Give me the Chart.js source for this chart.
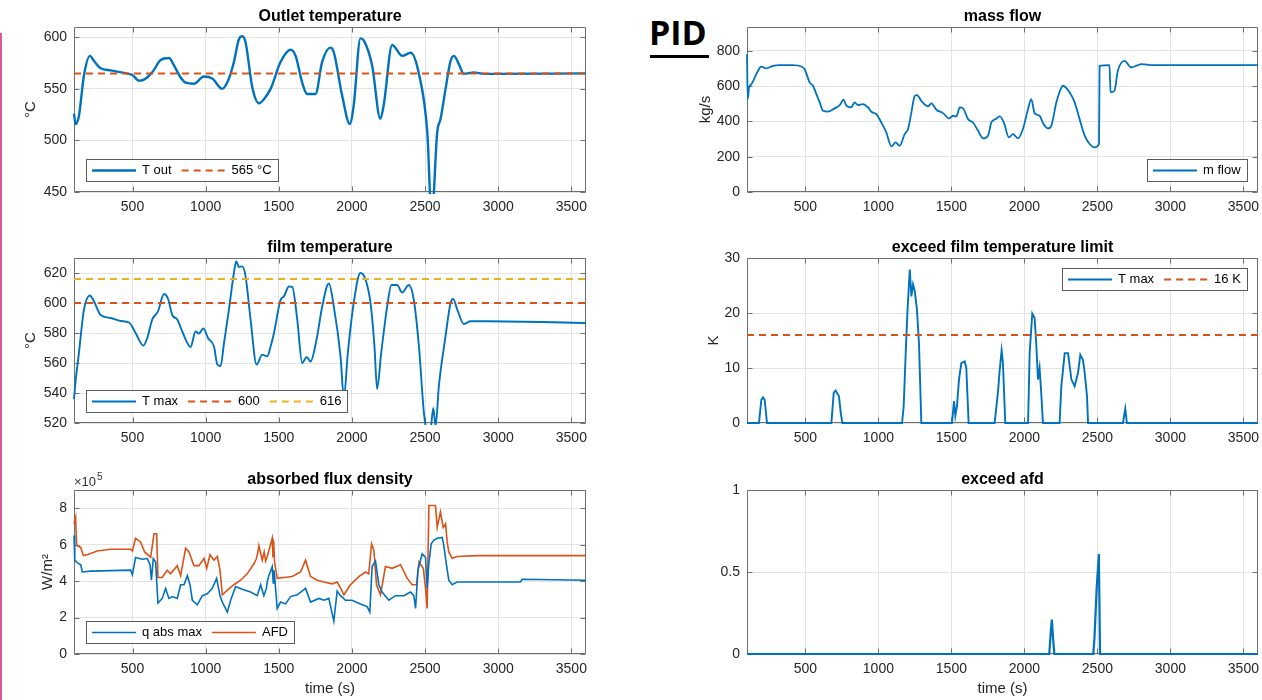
<!DOCTYPE html>
<html>
<head>
<meta charset="utf-8">
<script src="https://cdn.jsdelivr.net/npm/chart.js@4.4.1/dist/chart.umd.min.js"></script>
<style>
  html, body { margin: 0; padding: 0; background: #fff; width: 1262px; height: 700px; overflow: hidden; }
  canvas { position: absolute; }
  #bar { position: absolute; left: 0; top: 33px; width: 2px; height: 667px; background: #dc5a9c; }
  #pid { position: absolute; left: 649px; top: 12px; font: bold 34px 'Open Sans', sans-serif; color: #000; line-height: 40px; }
  #pidLine { position: absolute; left: 650px; top: 55px; width: 59px; height: 3px; background: #000; }
</style>
</head>
<body>
<div id="bar"></div>
<div id="pid">PID</div>
<div id="pidLine"></div>
<canvas id="tl"></canvas>
<canvas id="ml"></canvas>
<canvas id="bl"></canvas>
<canvas id="tr"></canvas>
<canvas id="mr"></canvas>
<canvas id="br"></canvas>
<script>
// ---- data ----
const xTicks = [500, 1000, 1500, 2000, 2500, 3000, 3500];

// outlet temperature, °C
const tOutTime = [100, 111, 134, 168, 209, 237, 282, 351, 442, 499,
  544, 578, 635, 692, 749, 784, 829, 863, 920, 988,
  1045, 1114, 1159, 1193, 1227, 1250, 1273, 1318, 1364, 1398,
  1444, 1512, 1580, 1615, 1660, 1694, 1751, 1796, 1853, 1876,
  1933, 1985, 2012, 2058, 2081, 2138, 2194, 2217, 2275, 2344,
  2401, 2458, 2515, 2545, 2583, 2606, 2640, 2674, 2697, 2731,
  2765, 2833, 2902, 3600];
const tOutVal = [526, 516, 524, 563, 582, 577, 570, 568, 565.5, 563.5,
  558, 559, 566, 578, 580, 572.6, 561, 556, 555, 562,
  560, 550, 560, 576, 598, 601, 595, 552, 536, 540,
  550, 576, 588, 582, 556, 545, 545, 576, 590, 585.5,
  543.5, 516, 534, 599, 597, 572.6, 521, 534, 592.6, 582,
  585, 564.5, 508, 425, 508, 521, 550, 577, 582, 574,
  564.5, 566, 564.5, 565];
const tOutSet = 565;

// film temperature, °C
const filmTime = [100, 111, 134, 168, 209, 237, 282, 351, 419, 476,
  521, 574, 601, 635, 674, 715, 742, 772, 806, 840,
  897, 931, 954, 984, 1016, 1057, 1080, 1102, 1125, 1159,
  1193, 1209, 1227, 1250, 1273, 1307, 1348, 1387, 1421, 1444,
  1467, 1512, 1535, 1569, 1592, 1626, 1660, 1690, 1717, 1758,
  1797, 1842, 1876, 1922, 1945, 1972, 2012, 2058, 2093, 2127,
  2154, 2172, 2200, 2241, 2270, 2309, 2343, 2389, 2423, 2458,
  2492, 2510, 2533, 2556, 2572, 2594, 2640, 2674, 2692, 2720,
  2765, 2811, 2925, 3600];
const filmVal = [536, 548, 567, 595.6, 605, 601, 592, 590, 588, 587,
  580, 571.6, 576.7, 589, 594.4, 606, 603, 592, 589, 581,
  570.7, 581, 579.6, 583, 576.7, 571, 559, 558, 573, 595.6,
  620, 627.8, 624, 624.4, 617.8, 589, 559, 565.6, 564.4, 571,
  580, 602, 604.4, 611, 610.7, 589, 560, 564, 561, 575.6,
  597.8, 613, 597.8, 564.4, 536.7, 566.7, 600, 620, 615.6, 600,
  571, 542.7, 566.7, 597.8, 612, 612, 607, 612, 602, 571,
  526.7, 515, 512, 530, 518, 544.4, 578, 600, 602.7, 595.6,
  586, 587.8, 587.8, 586.7];
const filmLimits = [600, 616];

// absorbed flux density, x1e5 W/m2
const qAbsTime = [100, 105, 123, 146, 157, 214, 487, 499, 521, 567,
  601, 620, 629, 642, 658, 674, 703, 726, 749, 772,
  806, 829, 852, 875, 893, 909, 943, 977, 1011, 1045,
  1075, 1098, 1114, 1148, 1171, 1205, 1250, 1307, 1353, 1376,
  1398, 1415, 1422, 1432, 1455, 1462, 1466, 1471, 1489, 1512, 1546, 1580, 1626, 1683,
  1717, 1774, 1808, 1842, 1876, 1899, 1922, 1956, 2001, 2058,
  2104, 2122, 2138, 2161, 2184, 2206, 2252, 2297, 2355, 2400,
  2423, 2435, 2451, 2480, 2503, 2514, 2526, 2542, 2560, 2583,
  2617, 2628, 2646, 2662, 2685, 2719, 3152, 3163, 3600];
const qAbsVal = [6.5, 5.15, 5.0, 4.9, 4.5, 4.55, 4.6, 4.35, 5.3, 5.2,
  5.24, 4.9, 4.05, 5.24, 5.05, 2.8, 3.05, 3.6, 3.05, 3.15,
  3.05, 3.8, 3.8, 4.3, 3.8, 2.95, 2.7, 3.2, 3.3, 3.6,
  4.15, 3.2, 2.85, 2.3, 2.95, 3.7, 3.55, 3.4, 3.2, 3.8,
  3.2, 3.6, 4.0, 4.3, 4.8, 3.9, 4.6, 4.3, 2.5, 2.85, 2.75, 3.15, 3.25, 3.6,
  2.85, 3.05, 2.95, 3.05, 1.8, 3.45, 3.2, 2.95, 2.95, 2.75,
  2.6, 2.3, 4.8, 5.1, 3.8, 3.4, 2.95, 3.2, 3.2, 3.4,
  3.2, 2.5, 4.6, 5.5, 5.3, 3.6, 5.0, 6.05, 6.25, 6.35,
  6.4, 5.95, 4.9, 4.05, 3.8, 3.95, 3.95, 4.1, 4.05];
const afdTime = [100, 111, 118, 146, 164, 191, 259, 351, 487, 499,
  521, 555, 583, 624, 647, 665, 674, 703, 737, 760,
  806, 829, 863, 886, 920, 954, 989, 1007, 1030, 1057,
  1080, 1098, 1114, 1148, 1193, 1239, 1284, 1330, 1345, 1355, 1364, 1387, 1400, 1410,
  1421, 1455, 1460, 1465, 1471, 1489, 1535, 1592, 1649, 1683, 1717, 1763,
  1808, 1865, 1899, 1917, 1945, 1990, 2047, 2093, 2115, 2134,
  2150, 2168, 2195, 2229, 2275, 2332, 2378, 2412, 2442, 2458,
  2488, 2503, 2514, 2526, 2571, 2583, 2605, 2624, 2640, 2651,
  2662, 2685, 2719, 2856, 3600];
const afdVal = [7.15, 7.5, 5.95, 5.85, 5.4, 5.45, 5.65, 5.75, 5.75, 5.65,
  6.35, 6.15, 5.6, 5.3, 6.6, 6.6, 4.2, 4.2, 4.6, 4.4,
  4.85, 4.3, 5.8, 5.6, 4.85, 4.85, 5.25, 4.7, 5.45, 5.15,
  5.35, 4.6, 3.25, 3.5, 3.8, 4.05, 4.4, 4.95, 5.2, 5.5, 5.95, 5.15, 5.6, 5.1,
  5.35, 6.35, 5.3, 6.2, 5.05, 4.15, 4.2, 4.25, 4.5, 5.15, 4.25, 4.05,
  3.95, 3.85, 3.95, 3.7, 3.25, 3.8, 4.25, 4.5, 4.4, 6.05,
  5.7, 3.8, 3.25, 4.8, 4.7, 4.9, 4.15, 3.8, 3.8, 5.05,
  4.7, 3.6, 2.5, 8.15, 8.15, 6.95, 7.8, 6.95, 7.15, 6.15,
  5.6, 5.25, 5.35, 5.4, 5.4];

// mass flow, kg/s
const flowTime = [100, 105, 114, 130, 164, 198, 232, 278, 324, 415,
  472, 495, 529, 552, 575, 598, 621, 655, 700, 735,
  762, 780, 814, 837, 860, 894, 929, 952, 986, 1020,
  1054, 1089, 1118, 1146, 1180, 1203, 1226, 1249, 1264, 1294,
  1340, 1363, 1397, 1443, 1483, 1511, 1534, 1557, 1580, 1614,
  1648, 1683, 1717, 1751, 1774, 1804, 1831, 1859, 1894, 1922,
  1956, 1990, 2025, 2047, 2070, 2104, 2131, 2161, 2184, 2219,
  2253, 2264, 2310, 2344, 2378, 2413, 2447, 2481, 2511, 2515,
  2583, 2590, 2617, 2640, 2686, 2732, 2801, 2881, 3600];
const flowVal = [781, 526, 592, 611, 668, 711, 700, 715, 719, 719,
  711, 696, 621, 602, 555, 508, 460, 455, 474, 492,
  523, 489, 479, 508, 492, 498, 479, 455, 441, 394,
  338, 258, 281, 262, 328, 357, 451, 545, 549, 517,
  485, 502, 466, 447, 417, 432, 428, 479, 474, 413,
  394, 347, 304, 319, 394, 413, 428, 394, 309, 328,
  304, 357, 470, 526, 447, 432, 385, 360, 375, 508,
  592, 602, 564, 508, 413, 319, 272, 253, 272, 715,
  719, 564, 574, 687, 743, 706, 725, 719, 719];

// exceed film temperature limit, K
const exFilmTime = [100, 182, 198, 210, 221, 237, 678, 694, 707, 730,
  742, 753, 1162, 1173, 1187, 1199, 1215, 1226, 1237, 1249,
  1264, 1278, 1294, 1504, 1518, 1527, 1538, 1552, 1568, 1591,
  1602, 1618, 1796, 1819, 1830, 1844, 1853, 1869, 2025, 2036,
  2054, 2070, 2081, 2093, 2104, 2115, 2127, 2241, 2253, 2276,
  2299, 2322, 2344, 2367, 2383, 2401, 2413, 2429, 2436, 2675,
  2691, 2702, 3600];
const exFilmVal = [0, 0, 4.2, 4.65, 4.2, 0, 0, 5.5, 5.9, 4.85,
  1.9, 0, 0, 3.0, 12.7, 20.3, 27.9, 23, 25.2, 24,
  20.6, 14.5, 0, 0, 4.0, 1.3, 3.0, 7.9, 10.9, 11.2,
  10, 0, 0, 5.6, 9.4, 13.2, 10.9, 0, 0, 12.7,
  19.9, 19.1, 14.5, 7.9, 10, 5.6, 0, 0, 6.7, 12.7,
  12.7, 7.9, 6.7, 9.1, 12.4, 11.5, 9.1, 4.85, 0, 0,
  2.6, 0, 0];
const exFilmLimit = 16;

// exceed afd
const exAfdTime = [100, 2170, 2182, 2188, 2196, 2205, 2472, 2480, 2495, 2510, 2518, 3600];
const exAfdVal = [0, 0, 0.15, 0.21, 0.1, 0, 0, 0.1, 0.4, 0.61, 0, 0];

// ---- style ----
const BLUE = '#0072BD', ORANGE = '#D95319', YELLOW = '#EDB120';
const GRID = '#e3e3e3', BOX = '#6e6e6e', TICK = '#262626';
const FONT = "'Liberation Sans', Arial, sans-serif";
Chart.defaults.font.family = FONT;
Chart.defaults.color = TICK;

const pts = (ts, vs) => ts.map((t, i) => ({ x: t, y: vs[i] }));
const hline = v => [{ x: 100, y: v }, { x: 3600, y: v }];

// MATLAB-like box, inward ticks, title, legend
const frame = {
  id: 'frame',
  beforeDatasetsDraw(chart) {
    const { ctx, chartArea: a, scales: { x, y } } = chart;
    const L = Math.round(a.left) + 0.5, R = Math.round(a.right) - 0.5;
    const T = Math.round(a.top) + 0.5, B = Math.round(a.bottom) - 0.5;
    ctx.save();
    ctx.strokeStyle = BOX;
    ctx.lineWidth = 1;
    ctx.beginPath();
    ctx.rect(L, T, R - L, B - T);
    x.ticks.forEach(t => {
      const px = Math.round(x.getPixelForValue(t.value)) + 0.5;
      ctx.moveTo(px, B); ctx.lineTo(px, B - 5);
      ctx.moveTo(px, T); ctx.lineTo(px, T + 5);
    });
    y.ticks.forEach(t => {
      const py = Math.round(y.getPixelForValue(t.value)) + 0.5;
      ctx.moveTo(L, py); ctx.lineTo(L + 5, py);
      ctx.moveTo(R, py); ctx.lineTo(R - 5, py);
    });
    ctx.stroke();
    ctx.restore();
  },
  afterDraw(chart, args, opts) {
    const { ctx, chartArea: a } = chart;
    ctx.save();
    ctx.fillStyle = '#000';
    ctx.font = 'bold 16px ' + FONT;
    ctx.textAlign = 'center';
    ctx.textBaseline = 'alphabetic';
    ctx.fillText(opts.title, (a.left + a.right) / 2, a.top - 6);
    if (opts.exponent) {
      ctx.fillStyle = '#333';
      ctx.textAlign = 'left';
      ctx.font = '13px ' + FONT;
      ctx.fillText('\u00d710', a.left, a.top - 4);
      const w = ctx.measureText('\u00d710').width;
      ctx.font = '10px ' + FONT;
      ctx.fillText(opts.exponent, a.left + w + 1, a.top - 10);
    }
    if (opts.legend) drawLegend(chart, opts.legend);
    ctx.restore();
  }
};

function drawLegend(chart, corner) {
  const { ctx, chartArea: a } = chart;
  const items = chart.data.datasets;
  ctx.font = '13px ' + FONT;
  const pad = 6, sample = 44, gap = 6, itemGap = 10, h = 22;
  const widths = items.map(d => sample + gap + ctx.measureText(d.label).width);
  const w = Math.round(pad * 2 + widths.reduce((s, v) => s + v, 0) + itemGap * (items.length - 1));
  let x0, y0;
  if (corner === 'sw') { x0 = a.left + 12; y0 = a.bottom - 11 - h; }
  else if (corner === 'se') { x0 = a.right - 11 - w; y0 = a.bottom - 11 - h; }
  else { x0 = a.right - 11 - w; y0 = a.top + 10; }
  x0 = Math.round(x0); y0 = Math.round(y0);
  ctx.fillStyle = '#fff';
  ctx.fillRect(x0, y0, w, h);
  ctx.strokeStyle = '#5a5a5a';
  ctx.lineWidth = 1;
  ctx.strokeRect(x0 + 0.5, y0 + 0.5, w, h);
  let x = x0 + pad;
  const cy = y0 + h / 2 + 0.5;
  items.forEach((d, i) => {
    ctx.beginPath();
    ctx.setLineDash(d.borderDash || []);
    ctx.strokeStyle = d.borderColor;
    ctx.lineWidth = d.borderWidth;
    ctx.moveTo(x, cy);
    ctx.lineTo(x + sample, cy);
    ctx.stroke();
    ctx.setLineDash([]);
    ctx.fillStyle = '#000';
    ctx.textAlign = 'left';
    ctx.textBaseline = 'middle';
    ctx.fillText(d.label, x + sample + gap, cy);
    x += widths[i] + itemGap;
  });
}

// page placement of each canvas and of its plot area [left, top, right, bottom]
const panes = {
  tl: { x: 0, y: 0, w: 605, h: 225, area: [74, 27, 586, 192] },
  ml: { x: 0, y: 228, w: 605, h: 227, area: [74, 258, 586, 423] },
  bl: { x: 0, y: 460, w: 605, h: 240, area: [74, 490, 586, 654] },
  tr: { x: 615, y: 0, w: 647, h: 225, area: [747, 27, 1258, 192] },
  mr: { x: 615, y: 228, w: 647, h: 227, area: [747, 258, 1258, 423] },
  br: { x: 615, y: 460, w: 647, h: 240, area: [747, 490, 1258, 654] }
};

function plot(id, o) {
  const p = panes[id];
  const c = document.getElementById(id);
  c.width = p.w; c.height = p.h;
  c.style.left = p.x + 'px'; c.style.top = p.y + 'px';
  const [l, t, r, b] = p.area;
  o.datasets.forEach(d => { d.clip = 2; });
  return new Chart(c, {
    type: 'line',
    data: { datasets: o.datasets },
    options: {
      responsive: false,
      animation: false,
      events: [],
      layout: { padding: { left: 0, top: t - p.y, right: p.x + p.w - r, bottom: 0 } },
      elements: { point: { radius: 0 }, line: { borderWidth: 1.8, tension: 0 } },
      plugins: {
        legend: { display: false },
        tooltip: { enabled: false },
        frame: { title: o.title, legend: o.legend, exponent: o.exponent }
      },
      scales: {
        x: {
          type: 'linear', min: 100, max: 3600,
          afterBuildTicks: s => { s.ticks = xTicks.map(v => ({ value: v })); },
          afterFit: s => { s.height = p.y + p.h - b; s.paddingLeft = 0; s.paddingRight = 0; },
          grid: { color: GRID, drawTicks: false },
          border: { display: false },
          ticks: { padding: 7, font: { size: 14 }, color: TICK, maxRotation: 0, autoSkip: false, callback: v => String(v) },
          title: { display: !!o.xTitle, text: o.xTitle, font: { size: 15 }, color: TICK, padding: { top: 0, bottom: 2 } }
        },
        y: {
          type: 'linear', min: o.yMin, max: o.yMax,
          afterBuildTicks: s => { s.ticks = o.yTicks.map(v => ({ value: v })); },
          afterFit: s => { s.width = l - p.x; s.paddingTop = 0; s.paddingBottom = 0; },
          grid: { color: GRID, drawTicks: false },
          border: { display: false },
          ticks: { padding: 7, font: { size: 14 }, color: TICK, autoSkip: false, callback: v => String(v) },
          title: { display: !!o.yTitle, text: o.yTitle, font: { size: 15 }, color: TICK, padding: { top: o.yTitlePad || 0, bottom: 0 } }
        }
      }
    },
    plugins: [frame]
  });
}

plot('tl', {
  title: 'Outlet temperature', yTitle: '\u00b0C', yTitlePad: 22,
  yMin: 450, yMax: 610, yTicks: [450, 500, 550, 600], legend: 'sw',
  datasets: [
    { label: 'T out', data: pts(tOutTime, tOutVal), borderColor: BLUE, borderWidth: 2.4, cubicInterpolationMode: 'monotone', order: 1 },
    { label: tOutSet + ' \u00b0C', data: hline(tOutSet), borderColor: ORANGE, borderWidth: 2, borderDash: [7, 5], order: 0 }
  ]
});

plot('ml', {
  title: 'film temperature', yTitle: '\u00b0C', yTitlePad: 22,
  yMin: 520, yMax: 630, yTicks: [520, 540, 560, 580, 600, 620], legend: 'sw',
  datasets: [
    { label: 'T max', data: pts(filmTime, filmVal), borderColor: BLUE, borderWidth: 1.9, cubicInterpolationMode: 'monotone', order: 2 },
    { label: String(filmLimits[0]), data: hline(filmLimits[0]), borderColor: ORANGE, borderWidth: 2, borderDash: [7, 5], order: 1 },
    { label: String(filmLimits[1]), data: hline(filmLimits[1]), borderColor: YELLOW, borderWidth: 2, borderDash: [7, 5], order: 0 }
  ]
});

plot('bl', {
  title: 'absorbed flux density', yTitle: 'W/m\u00b2', yTitlePad: 39, exponent: '5', xTitle: 'time (s)',
  yMin: 0, yMax: 9, yTicks: [0, 2, 4, 6, 8], legend: 'sw',
  datasets: [
    { label: 'q abs max', data: pts(qAbsTime, qAbsVal), borderColor: BLUE, borderWidth: 1.6 },
    { label: 'AFD', data: pts(afdTime, afdVal), borderColor: ORANGE, borderWidth: 1.6 }
  ]
});

plot('tr', {
  title: 'mass flow', yTitle: 'kg/s', yTitlePad: 82,
  yMin: 0, yMax: 935, yTicks: [0, 200, 400, 600, 800], legend: 'se',
  datasets: [
    { label: 'm flow', data: pts(flowTime, flowVal), borderColor: BLUE, borderWidth: 1.8, cubicInterpolationMode: 'monotone' }
  ]
});

plot('mr', {
  title: 'exceed film temperature limit', yTitle: 'K', yTitlePad: 90,
  yMin: 0, yMax: 30, yTicks: [0, 10, 20, 30], legend: 'ne',
  datasets: [
    { label: 'T max', data: pts(exFilmTime, exFilmVal), borderColor: BLUE, borderWidth: 1.9, order: 1 },
    { label: exFilmLimit + ' K', data: hline(exFilmLimit), borderColor: ORANGE, borderWidth: 2, borderDash: [7, 5], order: 0 }
  ]
});

plot('br', {
  title: 'exceed afd', xTitle: 'time (s)',
  yMin: 0, yMax: 1, yTicks: [0, 0.5, 1],
  datasets: [
    { label: 'exceed afd', data: pts(exAfdTime, exAfdVal), borderColor: BLUE, borderWidth: 2.2 }
  ]
});
</script>
</body>
</html>
